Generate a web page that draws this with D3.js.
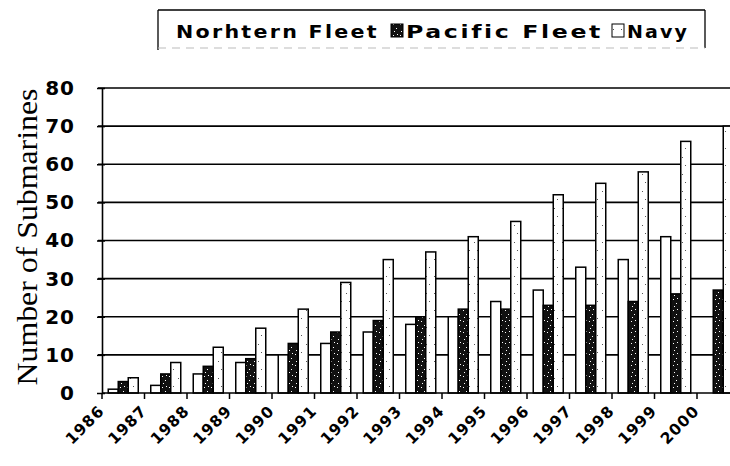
<!DOCTYPE html>
<html><head><meta charset="utf-8">
<script src="https://cdn.jsdelivr.net/npm/d3@7/dist/d3.min.js"></script>
<style>html,body{margin:0;padding:0;background:#fff;overflow:hidden}</style>
</head><body>
<svg id="chart" width="730" height="466"></svg>
<script>
const years = ["1986","1987","1988","1989","1990","1991","1992","1993","1994","1995","1996","1997","1998","1999","2000"];
const seriesNames = ["Norhtern Fleet","Pacific Fleet","Navy"];
const northernFleet = [1,2,5,8,10,13,16,18,20,24,27,33,35,41,null];
const pacificFleet  = [3,5,7,9,13,16,19,20,22,22,23,23,24,26,27];
const navy          = [4,8,12,17,22,29,35,37,41,45,52,55,58,66,70];
const yTicks = [0,10,20,30,40,50,60,70,80];

(function(){
const seriesValues = [northernFleet, pacificFleet, navy];
const svg = d3.select("#chart");
const defs = svg.append("defs");

const pp = defs.append("pattern").attr("id","pac").attr("patternUnits","userSpaceOnUse")
  .attr("width",7).attr("height",11);
pp.append("rect").attr("width",7).attr("height",11).attr("fill","#111");
[[1,2],[4,6],[2,9],[5,1]].forEach(([a,b])=>pp.append("rect").attr("x",a).attr("y",b).attr("width",1).attr("height",1).attr("fill","#fff"));
const np = defs.append("pattern").attr("id","nav").attr("patternUnits","userSpaceOnUse")
  .attr("width",8).attr("height",17);
np.append("rect").attr("width",8).attr("height",17).attr("fill","#fff");
[[2,4],[5,12]].forEach(([a,b])=>np.append("rect").attr("x",a).attr("y",b).attr("width",1).attr("height",1).attr("fill","#555"));

const fills = ["#fff","url(#pac)","url(#nav)"];

const mLeft = 102, mRight = 739.5, mTop = 88, mBottom = 393;
const y = d3.scaleLinear().domain([0,80]).range([mBottom, mTop]);
const x0 = d3.scaleBand().domain(years).range([mLeft, mRight]).paddingInner(0.294).paddingOuter(0.147);
const x1 = d3.scaleBand().domain(seriesNames).range([0, x0.bandwidth()]);

svg.append("g").selectAll("line").data(yTicks.slice(1)).join("line")
  .attr("x1", mLeft-4).attr("x2", 740).attr("y1", d=>y(d)).attr("y2", d=>y(d))
  .attr("stroke","#000").attr("stroke-width",1.6);

const rows = [];
years.forEach((yr,i)=>seriesNames.forEach((s,j)=>{
  const v = seriesValues[j][i];
  if (v != null) rows.push({yr, s, j, v});
}));
svg.append("g").selectAll("rect").data(rows).join("rect")
  .attr("x", d=>x0(d.yr)+x1(d.s))
  .attr("y", d=>y(d.v))
  .attr("width", x1.bandwidth())
  .attr("height", d=>y(0)-y(d.v))
  .attr("fill", d=>fills[d.j])
  .attr("stroke","#000").attr("stroke-width",1.5);

const ya = svg.append("g").attr("transform",`translate(${mLeft},0)`)
  .call(d3.axisLeft(y).tickValues(yTicks).tickSize(5).tickSizeOuter(0).tickPadding(22));
ya.select(".domain").attr("stroke","#000").attr("stroke-width",1.6);
ya.selectAll(".tick line").attr("stroke","#000").attr("stroke-width",1.5).attr("x2",-5).attr("x1",3);
ya.selectAll(".tick text").attr("font-family","DejaVu Sans").attr("font-weight","bold")
  .attr("font-size",20).attr("fill","#000").attr("letter-spacing",1);

svg.append("line").attr("x1",mLeft).attr("x2",740).attr("y1",mBottom).attr("y2",mBottom)
  .attr("stroke","#000").attr("stroke-width",1.6);
svg.append("g").selectAll("line").data(years).join("line")
  .attr("x1", d=>x0(d)-x0.step()*0.147).attr("x2", d=>x0(d)-x0.step()*0.147)
  .attr("y1", mBottom).attr("y2", mBottom+6).attr("stroke","#000").attr("stroke-width",1.5);
svg.append("g").selectAll("text").data(years).join("text")
  .attr("transform", d=>`translate(${x0(d)-3},${mBottom+19}) rotate(-45)`)
  .attr("text-anchor","end")
  .attr("font-family","DejaVu Sans").attr("font-weight","bold").attr("font-size",15.5)
  .attr("letter-spacing",1).attr("fill","#000")
  .text(d=>d);

svg.append("text").attr("transform","translate(37,237) rotate(-90)")
  .attr("text-anchor","middle").attr("font-family","Liberation Serif")
  .attr("font-size",29).attr("textLength",297).attr("lengthAdjust","spacingAndGlyphs")
  .attr("fill","#000").text("Number of Submarines");

const lg = svg.append("g");
lg.append("line").attr("x1",158).attr("x2",705).attr("y1",10).attr("y2",10).attr("stroke","#000").attr("stroke-width",1.3);
lg.append("line").attr("x1",158).attr("x2",158).attr("y1",10).attr("y2",50).attr("stroke","#000").attr("stroke-width",1.3);
lg.append("line").attr("x1",705).attr("x2",705).attr("y1",10).attr("y2",48).attr("stroke","#000").attr("stroke-width",1.3);
lg.append("line").attr("x1",158).attr("x2",705).attr("y1",48).attr("y2",48).attr("stroke","#bbb").attr("stroke-width",1).attr("stroke-dasharray","8,6");
const legendItems = [
  {name: seriesNames[0], sw: null, tx: 176, tl: 203},
  {name: seriesNames[1], sw: 391, tx: 406, tl: 197, j:1},
  {name: seriesNames[2], sw: 612, tx: 627, tl: 62, j:2}
];
legendItems.forEach(it=>{
  if (it.sw != null) {
    lg.append("rect").attr("x",it.sw).attr("y",24).attr("width",12).attr("height",13)
      .attr("fill",fills[it.j]).attr("stroke","#000").attr("stroke-width",1);
  }
  lg.append("text").attr("x",it.tx).attr("y",38)
    .attr("font-family","DejaVu Sans").attr("font-weight","bold").attr("font-size",18)
    .attr("letter-spacing",2)
    .attr("textLength",it.tl).attr("lengthAdjust","spacingAndGlyphs").attr("fill","#000").text(it.name);
});
})();
</script>
</body></html>
